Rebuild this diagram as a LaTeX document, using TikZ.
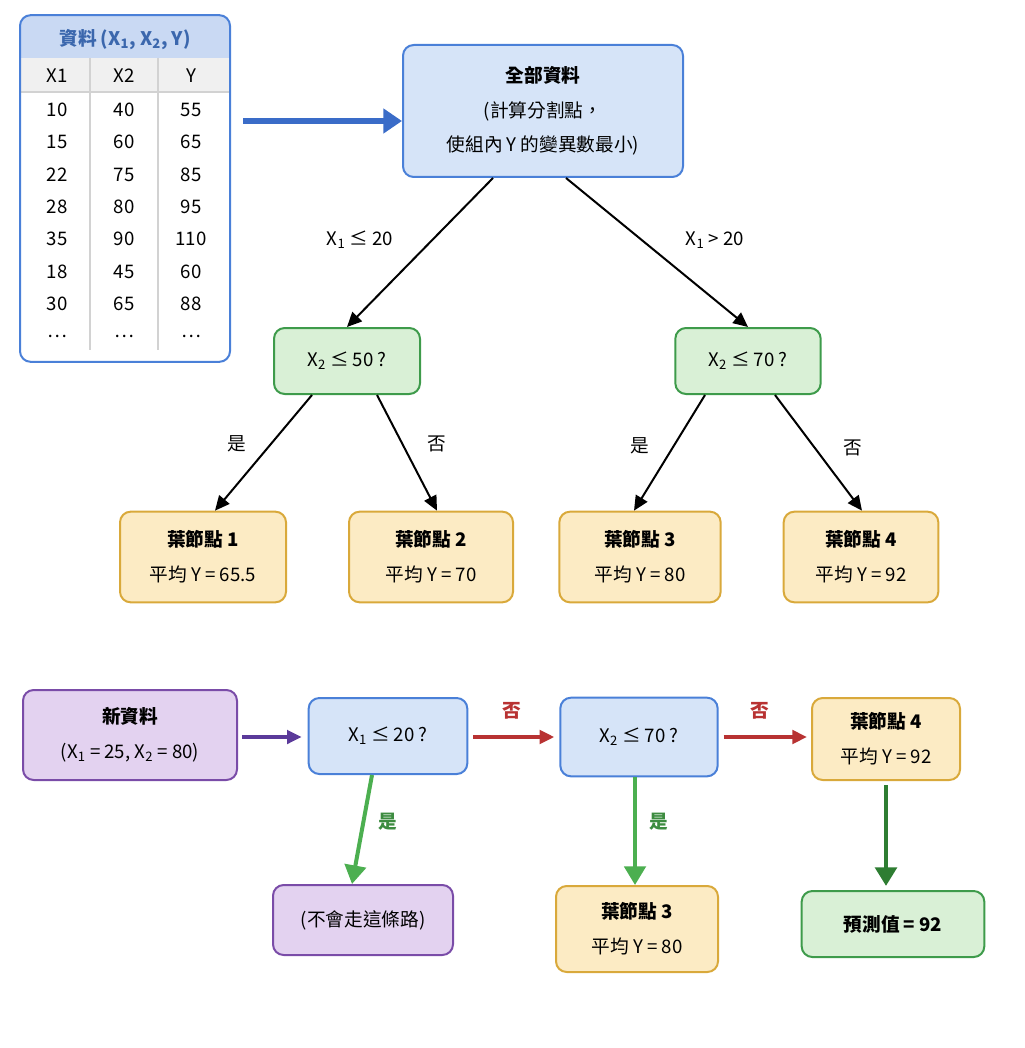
\documentclass[tikz,border=0pt]{standalone}
\usepackage{fontspec}
\setmainfont{Noto Sans CJK TC}
\usetikzlibrary{arrows.meta,calc}
\definecolor{bfill}{HTML}{D6E4F8}\definecolor{bdraw}{HTML}{4A80D8}
\definecolor{gfill}{HTML}{D9F0D6}\definecolor{gdraw}{HTML}{3E9B4B}
\definecolor{ofill}{HTML}{FCEBC4}\definecolor{odraw}{HTML}{D9A93B}
\definecolor{pfill}{HTML}{E3D2F0}\definecolor{pdraw}{HTML}{7A4CA8}
\definecolor{redc}{HTML}{B83232}\definecolor{lgreen}{HTML}{4CAF50}\definecolor{dgreen}{HTML}{2E7D32}
\definecolor{bluearr}{HTML}{3A6CC8}\definecolor{purarr}{HTML}{5B3A9A}
\begin{document}
\begin{tikzpicture}[x=0.75pt,y=-0.75pt,
  every node/.style={font=\fontsize{14}{26}\selectfont,inner sep=0pt},
  box/.style={rounded corners=8pt,line width=1.5pt,align=center,draw=#1draw,fill=#1fill},
  arr/.style={line width=1.5pt,-{Triangle[length=11pt,width=10pt]}},
  tcell/.style={font=\fontsize{14}{16}\selectfont},
  lab/.style={font=\fontsize{14}{16}\selectfont}]
\useasboundingbox (0,0) rectangle (1024,1048);
% table
\begin{scope}
\clip[rounded corners=8pt] (20,15) rectangle (230,362);
\fill[bdraw!30] (20,15) rectangle (230,58);
\fill[gray!12] (20,58) rectangle (230,92);
\fill[white] (20,92) rectangle (230,362);
\draw[gray!35,line width=1pt] (20,92) -- (230,92) (90,58) -- (90,350) (158,58) -- (158,350);
\end{scope}
\node[draw=bdraw,line width=1.5pt,rounded corners=8pt,minimum width=157.5pt,minimum height=260pt] (tab) at (125,188.5) {};
\node[font=\fontsize{14}{16}\selectfont\bfseries,text=bdraw!80!black] (tabt) at (125,40) {資料 (X\textsubscript{1}, X\textsubscript{2}, Y)};
\foreach \a/\b/\c [count=\i] in {X1/X2/Y,10/40/55,15/60/65,22/75/85,28/80/95,35/90/110,18/45/60,30/65/88,…/…/…}{
  \pgfmathsetmacro\yy{\i==1 ? 76 : 110+(\i-2)*32.3}
  \node[tcell] (ta\i) at (57,\yy) {\a};
  \node[tcell] (tb\i) at (124,\yy) {\b};
  \node[tcell] (tc\i) at (191,\yy) {\c};
}
\node[box=b,minimum width=210pt,minimum height=99pt] (root) at (543,111) {\textbf{全部資料}\\(計算分割點，\\使組內 Y 的變異數最小)};
\coordinate (tabr) at (243,121);
\draw[arr,draw=bluearr,line width=4pt,-{Triangle[length=14pt,width=18pt]}] (tabr) -- (root.west|-tabr);
\node[box=g,minimum width=109.5pt,minimum height=49.5pt] (c1) at (347,361) {X\textsubscript{2} ≤ 50 ?};
\node[box=g,minimum width=109pt,minimum height=49.5pt] (c2) at (748,361) {X\textsubscript{2} ≤ 70 ?};
\draw[arr] ($(root.south)+(-50,0)$) -- (c1.north);
\draw[arr] ($(root.south)+(23,0)$) -- (c2.north);
\node[lab] (l1) at (360,240) {X\textsubscript{1} ≤ 20};
\node[lab] (l2) at (715,240) {X\textsubscript{1} > 20};
\node[box=o,minimum width=124.5pt,minimum height=68pt] (f1) at (203,557) {\textbf{葉節點 1}\\平均 Y = 65.5};
\node[box=o,minimum width=123pt,minimum height=68pt] (f2) at (431,557) {\textbf{葉節點 2}\\平均 Y = 70};
\node[box=o,minimum width=121pt,minimum height=68pt] (f3) at (640,557) {\textbf{葉節點 3}\\平均 Y = 80};
\node[box=o,minimum width=116pt,minimum height=68pt] (f4) at (861,557) {\textbf{葉節點 4}\\平均 Y = 92};
\draw[arr] ($(c1.south)+(-35,0)$) -- ($(f1.north)+(12,0)$);
\draw[arr] ($(c1.south)+(30,0)$) -- ($(f2.north)+(6,0)$);
\draw[arr] ($(c2.south)+(-43,0)$) -- ($(f3.north)+(-6,0)$);
\draw[arr] ($(c2.south)+(27,0)$) -- ($(f4.north)+(1,0)$);
\node[lab] (y1) at (237,444) {是};
\node[lab] (n1) at (437,444) {否};
\node[lab] (y2) at (640,446) {是};
\node[lab] (n2) at (853,448) {否};
% bottom
\node[box=p,minimum width=160.5pt,minimum height=67.5pt] (new) at (130,735) {\textbf{新資料}\\(\textit{X}\textsubscript{1} = 25, \textit{X}\textsubscript{2} = 80)};
\node[box=b,minimum width=119pt,minimum height=57pt] (q1) at (388,736) {X\textsubscript{1} ≤ 20 ?};
\node[box=b,minimum width=118pt,minimum height=59pt] (q2) at (639,737) {X\textsubscript{2} ≤ 70 ?};
\node[box=o,minimum width=111pt,minimum height=61.5pt] (lf4) at (886,739) {\textbf{葉節點 4}\\平均 Y = 92};
\node[box=p,minimum width=135pt,minimum height=52.5pt] (np) at (363,920) {(不會走這條路)};
\node[box=o,minimum width=121.5pt,minimum height=64.5pt] (lf3) at (637,929) {\textbf{葉節點 3}\\平均 Y = 80};
\node[box=g,minimum width=137pt,minimum height=49.5pt] (pred) at (893,924) {\textbf{預測值 = 92}};
\draw[arr,draw=purarr,fill=purarr,line width=3pt] ($(new.east)+(4,2)$) -- ($(q1.west)+(-6,1)$);
\draw[arr,draw=redc,line width=3pt] ($(q1.east)+(5,1)$) -- ($(q2.west)+(-5,0)$);
\draw[arr,draw=redc,line width=3pt] ($(q2.east)+(5,0)$) -- ($(lf4.west)+(-4,-2)$);
\node[lab,text=redc,font=\fontsize{14}{16}\selectfont\bfseries] (r1) at (512,711) {否};
\node[lab,text=redc,font=\fontsize{14}{16}\selectfont\bfseries] (r2) at (760,711) {否};
\draw[arr,draw=lgreen,line width=3pt,-{Triangle[length=14pt,width=16pt]}] ($(q1.south)+(-16,0)$) -- ($(np.north)+(-11,0)$);
\draw[arr,draw=lgreen,line width=3pt,-{Triangle[length=14pt,width=16pt]}] ($(q2.south)+(-4,0)$) -- ($(lf3.north)+(-2,0)$);
\draw[arr,draw=dgreen,line width=3.5pt,-{Triangle[length=14pt,width=16pt]}] ($(lf4.south)+(0,4)$) -- ($(pred.north)+(-7,-4)$);
\node[lab,text=lgreen!80!black,font=\fontsize{14}{16}\selectfont\bfseries] (g1) at (388,822) {是};
\node[lab,text=lgreen!80!black,font=\fontsize{14}{16}\selectfont\bfseries] (g2) at (659,822) {是};
\end{tikzpicture}
\end{document}
